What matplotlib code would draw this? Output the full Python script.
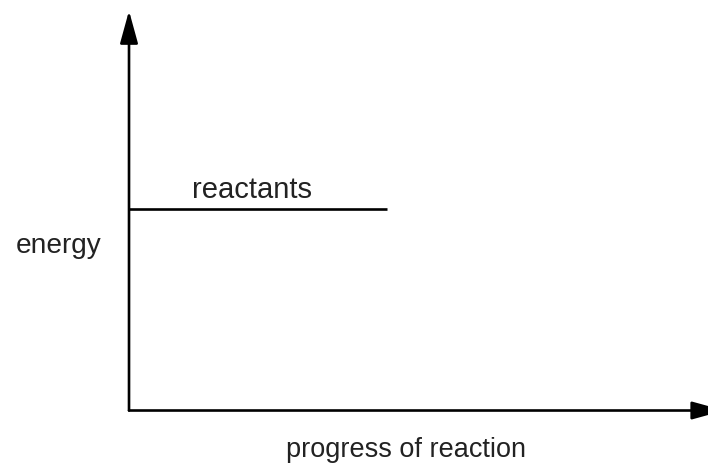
import matplotlib
matplotlib.use('Agg')
import matplotlib.pyplot as plt

plt.rcParams['font.family'] = ['Liberation Sans', 'DejaVu Sans']

# energy level diagram data (progress 0..1, energy 0..1)
reactant_progress = [0.0, 0.447]
reactant_energy = [0.511, 0.511]
axis_tip_x = 1.032
axis_tip_y = 1.012

x_label = 'progress of reaction'
y_label = 'energy'
level_label = 'reactants'

fig = plt.figure(figsize=(7.08, 4.64), dpi=100)
ax = fig.add_axes([0, 0, 1, 1])
# origin sits at pixel (129, 411.5)
ax.set_xlim(-0.2236, 1.0035)
ax.set_ylim(-0.1329, 1.0418)
ax.axis('off')

lw = 1.9
arrow = dict(arrowstyle='-|>,head_length=2.0,head_width=0.55', mutation_scale=10,
             color='black', lw=lw, shrinkA=0, shrinkB=0)
ax.annotate('', xy=(0, axis_tip_y), xytext=(0, 0), arrowprops=arrow,
            annotation_clip=False)
ax.annotate('', xy=(axis_tip_x, 0), xytext=(0, 0), arrowprops=arrow,
            annotation_clip=False)

ax.plot(reactant_progress, reactant_energy, color='black', lw=lw, solid_capstyle='butt')

txt = '#222222'
ax.text(0.213, 0.562, level_label, fontsize=21, color=txt, ha='center', va='center')
ax.text(-0.122, 0.418, y_label, fontsize=20.2, color=txt, ha='center', va='center')
ax.text(0.480, -0.097, x_label, fontsize=19.5, color=txt, ha='center', va='center')

fig.savefig('out.png', dpi=100)
